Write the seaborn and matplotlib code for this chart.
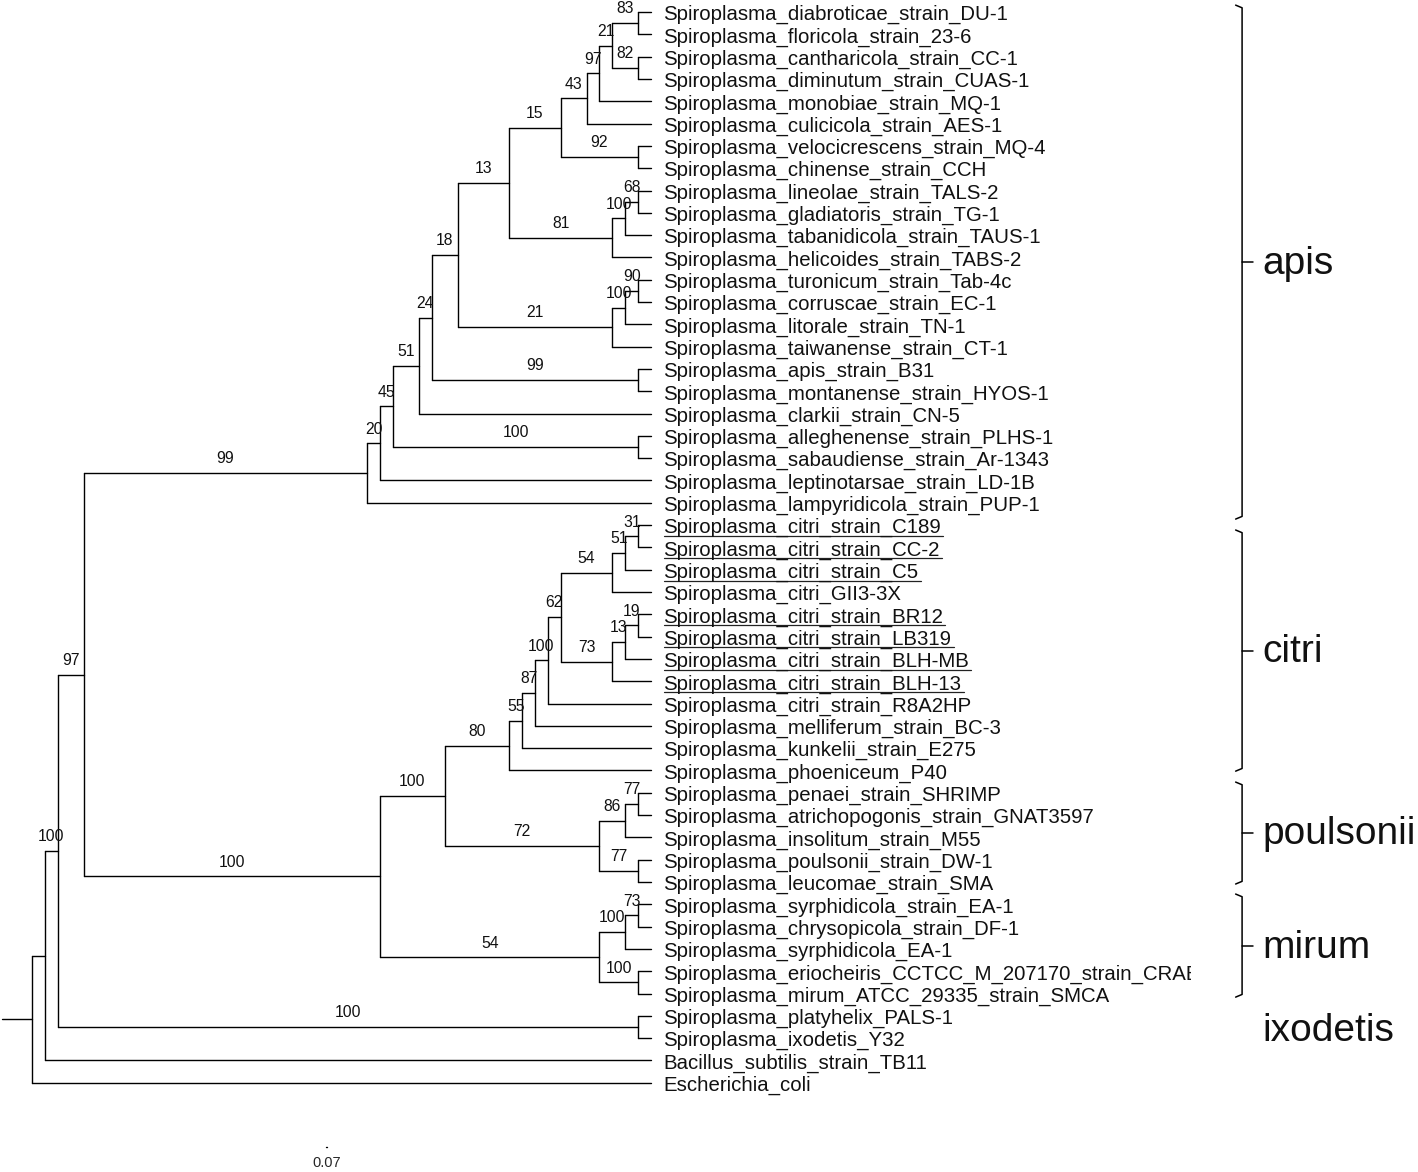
import matplotlib
matplotlib.use("Agg")
import matplotlib.pyplot as plt
from matplotlib.patches import Rectangle
import seaborn as sns
import pandas as pd

sns.set_theme(style="white")
plt.rcParams['font.family'] = ['Liberation Sans', 'DejaVu Sans']

# tip labels, top to bottom
tip_labels = [
    "Spiroplasma_diabroticae_strain_DU-1",
    "Spiroplasma_floricola_strain_23-6",
    "Spiroplasma_cantharicola_strain_CC-1",
    "Spiroplasma_diminutum_strain_CUAS-1",
    "Spiroplasma_monobiae_strain_MQ-1",
    "Spiroplasma_culicicola_strain_AES-1",
    "Spiroplasma_velocicrescens_strain_MQ-4",
    "Spiroplasma_chinense_strain_CCH",
    "Spiroplasma_lineolae_strain_TALS-2",
    "Spiroplasma_gladiatoris_strain_TG-1",
    "Spiroplasma_tabanidicola_strain_TAUS-1",
    "Spiroplasma_helicoides_strain_TABS-2",
    "Spiroplasma_turonicum_strain_Tab-4c",
    "Spiroplasma_corruscae_strain_EC-1",
    "Spiroplasma_litorale_strain_TN-1",
    "Spiroplasma_taiwanense_strain_CT-1",
    "Spiroplasma_apis_strain_B31",
    "Spiroplasma_montanense_strain_HYOS-1",
    "Spiroplasma_clarkii_strain_CN-5",
    "Spiroplasma_alleghenense_strain_PLHS-1",
    "Spiroplasma_sabaudiense_strain_Ar-1343",
    "Spiroplasma_leptinotarsae_strain_LD-1B",
    "Spiroplasma_lampyridicola_strain_PUP-1",
    "Spiroplasma_citri_strain_C189",
    "Spiroplasma_citri_strain_CC-2",
    "Spiroplasma_citri_strain_C5",
    "Spiroplasma_citri_GII3-3X",
    "Spiroplasma_citri_strain_BR12",
    "Spiroplasma_citri_strain_LB319",
    "Spiroplasma_citri_strain_BLH-MB",
    "Spiroplasma_citri_strain_BLH-13",
    "Spiroplasma_citri_strain_R8A2HP",
    "Spiroplasma_melliferum_strain_BC-3",
    "Spiroplasma_kunkelii_strain_E275",
    "Spiroplasma_phoeniceum_P40",
    "Spiroplasma_penaei_strain_SHRIMP",
    "Spiroplasma_atrichopogonis_strain_GNAT3597",
    "Spiroplasma_insolitum_strain_M55",
    "Spiroplasma_poulsonii_strain_DW-1",
    "Spiroplasma_leucomae_strain_SMA",
    "Spiroplasma_syrphidicola_strain_EA-1",
    "Spiroplasma_chrysopicola_strain_DF-1",
    "Spiroplasma_syrphidicola_EA-1",
    "Spiroplasma_eriocheiris_CCTCC_M_207170_strain_CRAB",
    "Spiroplasma_mirum_ATCC_29335_strain_SMCA",
    "Spiroplasma_platyhelix_PALS-1",
    "Spiroplasma_ixodetis_Y32",
    "Bacillus_subtilis_strain_TB11",
    "Escherichia_coli",
]
underlined = [23, 24, 25, 27, 28, 29, 30]

tip_depth = 48
root_edge = 2.3

# internal nodes: (name, children, depth, bootstrap)
# children are tip indices or names of other nodes
nodes = [
    ("n83", [0, 1], 47, "83"),
    ("n82", [2, 3], 47, "82"),
    ("n21a", ["n83", "n82"], 45, "21"),
    ("n97a", ["n21a", 4], 44, "97"),
    ("n43", ["n97a", 5], 43, "43"),
    ("n92", [6, 7], 47, "92"),
    ("n15", ["n43", "n92"], 41, "15"),
    ("n68", [8, 9], 47, "68"),
    ("n100a", ["n68", 10], 46, "100"),
    ("n81", ["n100a", 11], 45, "81"),
    ("n13a", ["n15", "n81"], 37, "13"),
    ("n90", [12, 13], 47, "90"),
    ("n100b", ["n90", 14], 46, "100"),
    ("n21b", ["n100b", 15], 45, "21"),
    ("n18", ["n13a", "n21b"], 33, "18"),
    ("n99a", [16, 17], 47, "99"),
    ("n24", ["n18", "n99a"], 31, "24"),
    ("n51a", ["n24", 18], 30, "51"),
    ("n100c", [19, 20], 47, "100"),
    ("n45", ["n51a", "n100c"], 28, "45"),
    ("n20", ["n45", 21], 27, "20"),
    ("apis", ["n20", 22], 26, "99"),
    ("n31", [23, 24], 47, "31"),
    ("n51b", ["n31", 25], 46, "51"),
    ("n54a", ["n51b", 26], 45, "54"),
    ("n19", [27, 28], 47, "19"),
    ("n13b", ["n19", 29], 46, "13"),
    ("n73a", ["n13b", 30], 45, "73"),
    ("n62", ["n54a", "n73a"], 41, "62"),
    ("n100d", ["n62", 31], 40, "100"),
    ("n87", ["n100d", 32], 39, "87"),
    ("n55", ["n87", 33], 38, "55"),
    ("citri", ["n55", 34], 37, "80"),
    ("n77a", [35, 36], 47, "77"),
    ("n86", ["n77a", 37], 46, "86"),
    ("n77b", [38, 39], 47, "77"),
    ("poulsonii", ["n86", "n77b"], 44, "72"),
    ("n100e", ["citri", "poulsonii"], 32, "100"),
    ("n73b", [40, 41], 47, "73"),
    ("n100f", ["n73b", 42], 46, "100"),
    ("n100g", [43, 44], 47, "100"),
    ("mirum", ["n100f", "n100g"], 44, "54"),
    ("n100h", ["n100e", "mirum"], 27, "100"),
    ("n97b", ["apis", "n100h"], 4, "97"),
    ("ixodetis", [45, 46], 47, "100"),
    ("n100i", ["n97b", "ixodetis"], 2, "100"),
    ("n_bac", ["n100i", 47], 1, ""),
    ("root", ["n_bac", 48], 0, ""),
]

# clade brackets on the right (top / bottom in tip rows)
groups = ["apis", "citri", "poulsonii", "mirum", "ixodetis"]
group_top = [-0.31, 23.22, 34.52, 39.54, None]
group_bottom = [22.73, 34.03, 39.09, 44.16, None]
group_label_y = [11.3, 28.7, 36.85, 41.95, 45.7]

scale_bar = 0.07

# ---- layout ----
node_y = {i: float(i) for i in range(len(tip_labels))}
node_x = {i: float(tip_depth) for i in range(len(tip_labels))}
parent = {}
for name, kids, depth, _ in nodes:
    node_x[name] = float(depth)
    node_y[name] = (node_y[kids[0]] + node_y[kids[-1]]) / 2
    for k in kids:
        parent[k] = name

rows = []
seg = 0
for name, kids, depth, _ in nodes:
    # vertical bar of the node
    rows += [(seg, depth, node_y[kids[0]]), (seg, depth, node_y[kids[-1]])]
    seg += 1
    for k in kids:
        rows += [(seg, depth, node_y[k]), (seg, node_x[k], node_y[k])]
        seg += 1
rows += [(seg, -root_edge, node_y["root"]), (seg, 0, node_y["root"])]
edges = pd.DataFrame(rows, columns=["seg", "x", "y"])

fig = plt.figure(figsize=(14.18, 11.72), dpi=100)
ax = fig.add_axes([0, 0, 1, 1])
sns.lineplot(data=edges, x="x", y="y", units="seg", estimator=None, sort=False,
             color="black", lw=1.0, legend=False, ax=ax)
ax.set_xlim(-2.48, 107.47)
ax.set_ylim(52.0, -0.54)
ax.axis("off")

# bootstrap values, centred above the branch leading to each node
for name, kids, depth, support in nodes:
    if not support:
        continue
    xm = (node_x[parent[name]] + depth) / 2
    ax.annotate(support, (xm, node_y[name]), xytext=(0, 7), textcoords="offset points",
                ha="center", va="baseline", fontsize=11.3, color="#111111")

# tip labels (long names get cut at the right edge as in the original)
clip = Rectangle((-5, -5), 94.9, 70, transform=ax.transData)
tip_texts = []
for i, lab in enumerate(tip_labels):
    t = ax.annotate(lab, (tip_depth, i), xytext=(9, -5.8), textcoords="offset points",
                    ha="left", va="baseline", fontsize=14.7, color="#111111")
    t.set_clip_path(clip)
    tip_texts.append(t)

fig.canvas.draw()
renderer = fig.canvas.get_renderer()
inv = ax.transData.inverted()
for i in underlined:
    bb = tip_texts[i].get_window_extent(renderer)
    (x0, y0), (x1, _) = inv.transform([(bb.x0, bb.y0 + 1.5), (bb.x1 + 2, bb.y0 + 1.5)])
    ax.plot([x0, x1], [y0, y0], color="#222222", lw=0.9)

# clade brackets
bx = 93.83
for g, top, bot, ly in zip(groups, group_top, group_bottom, group_label_y):
    if top is not None:
        ax.plot([bx - 0.5, bx, bx, bx - 0.5], [top, top + 0.12, bot - 0.12, bot],
                color="black", lw=1.1)
        mid = (top + bot) / 2
        ax.plot([bx, bx + 0.85], [mid, mid], color="black", lw=1.1)
    ax.text(95.4, ly, g, ha="left", va="center", fontsize=28, color="#111111")

# scale bar
sx, sy = 22.8, len(tip_labels) + 1.88
ax.plot([sx, sx + scale_bar], [sy, sy], color="black", lw=1.0)
ax.text(sx + scale_bar / 2, sy + 0.4, f"{scale_bar:g}", ha="center", va="top", fontsize=10.5)

fig.savefig("out.png", dpi=100)
